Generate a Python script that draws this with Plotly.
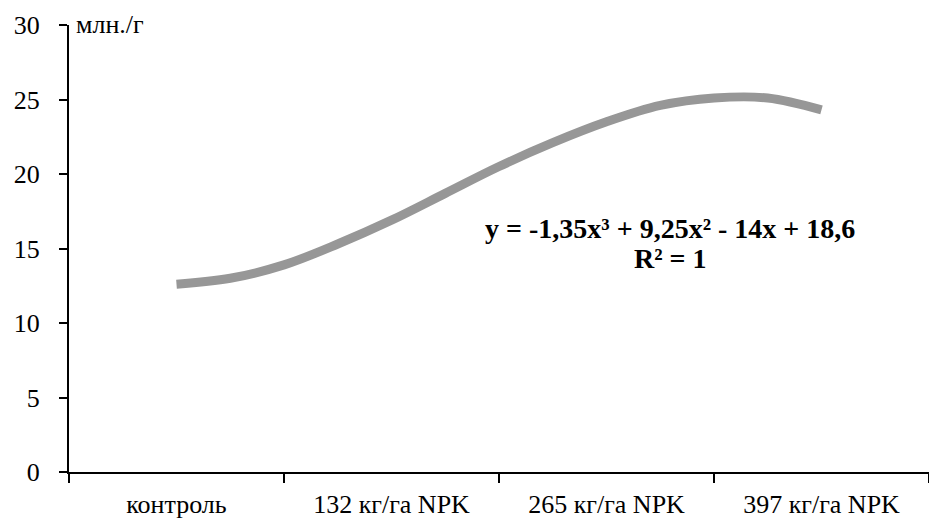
import plotly.graph_objects as go

# Category labels (x axis)
categories = ["контроль", "132 кг/га NPK", "265 кг/га NPK", "397 кг/га NPK"]
category_pos = [1, 2, 3, 4]

# Trend curve (x in category units, y in млн./г)
curve_x = [1, 1.25, 1.5, 1.75, 2, 2.25, 2.5, 2.75, 3, 3.25, 3.5, 3.75, 4]
curve_y = [12.6, 13.0, 13.9, 15.3, 16.9, 18.7, 20.5, 22.1, 23.5, 24.6, 25.1, 25.1, 24.3]

y_ticks = [0, 5, 10, 15, 20, 25, 30]
boundaries = [0.5, 1.5, 2.5, 3.5, 4.5]

equation_text = "y = -1,35x³ + 9,25x² - 14x + 18,6"
r2_text = "R² = 1"
unit_text = "млн./г"

SERIF = "Times New Roman"

fig = go.Figure()
fig.add_trace(go.Scatter(
    x=curve_x, y=curve_y, mode="lines",
    line=dict(color="#979797", width=9, shape="spline", smoothing=1.0),
    hoverinfo="skip", showlegend=False,
))

fig.update_layout(
    width=929, height=519,
    margin=dict(l=69, r=0, t=25, b=47),
    paper_bgcolor="white", plot_bgcolor="white",
    font=dict(family=SERIF, color="black", size=25),
    showlegend=False,
)

fig.update_xaxes(
    range=[0.5, 4.5], automargin=False,
    tickmode="array", tickvals=category_pos, ticktext=categories,
    ticks="", showgrid=False, zeroline=False,
    showline=True, linecolor="black", linewidth=2,
    tickfont=dict(family=SERIF, size=26, color="black"),
    ticklabelstandoff=8,
    minor=dict(tickmode="array", tickvals=boundaries, ticks="outside",
               ticklen=9, tickwidth=2, tickcolor="black", showgrid=False),
)

fig.update_yaxes(
    range=[0, 30], automargin=False,
    tickmode="array", tickvals=y_ticks, ticktext=[str(v) for v in y_ticks],
    ticks="outside", ticklen=8, tickwidth=2, tickcolor="black",
    showgrid=False, zeroline=False,
    showline=True, linecolor="black", linewidth=2,
    tickfont=dict(family=SERIF, size=26, color="black"),
    ticklabelstandoff=14,
)

fig.add_annotation(
    xref="paper", yref="paper", x=5 / 860, y=1.0,
    xanchor="left", yanchor="middle", yshift=1,
    text=unit_text, showarrow=False,
    font=dict(family=SERIF, size=26, color="black"),
)
fig.add_annotation(
    xref="paper", yref="paper", x=(670 - 69) / 860, y=(472.5 - 229) / 447,
    xanchor="center", yanchor="middle",
    text="<b>" + equation_text + "</b>", showarrow=False,
    font=dict(family=SERIF, size=28, color="black"),
)
fig.add_annotation(
    xref="paper", yref="paper", x=(670 - 69) / 860, y=(472.5 - 259) / 447,
    xanchor="center", yanchor="middle",
    text="<b>" + r2_text + "</b>", showarrow=False,
    font=dict(family=SERIF, size=28, color="black"),
)

fig.write_html("out.html", config={"displayModeBar": False},
               post_script="document.body.style.margin='0px';")
